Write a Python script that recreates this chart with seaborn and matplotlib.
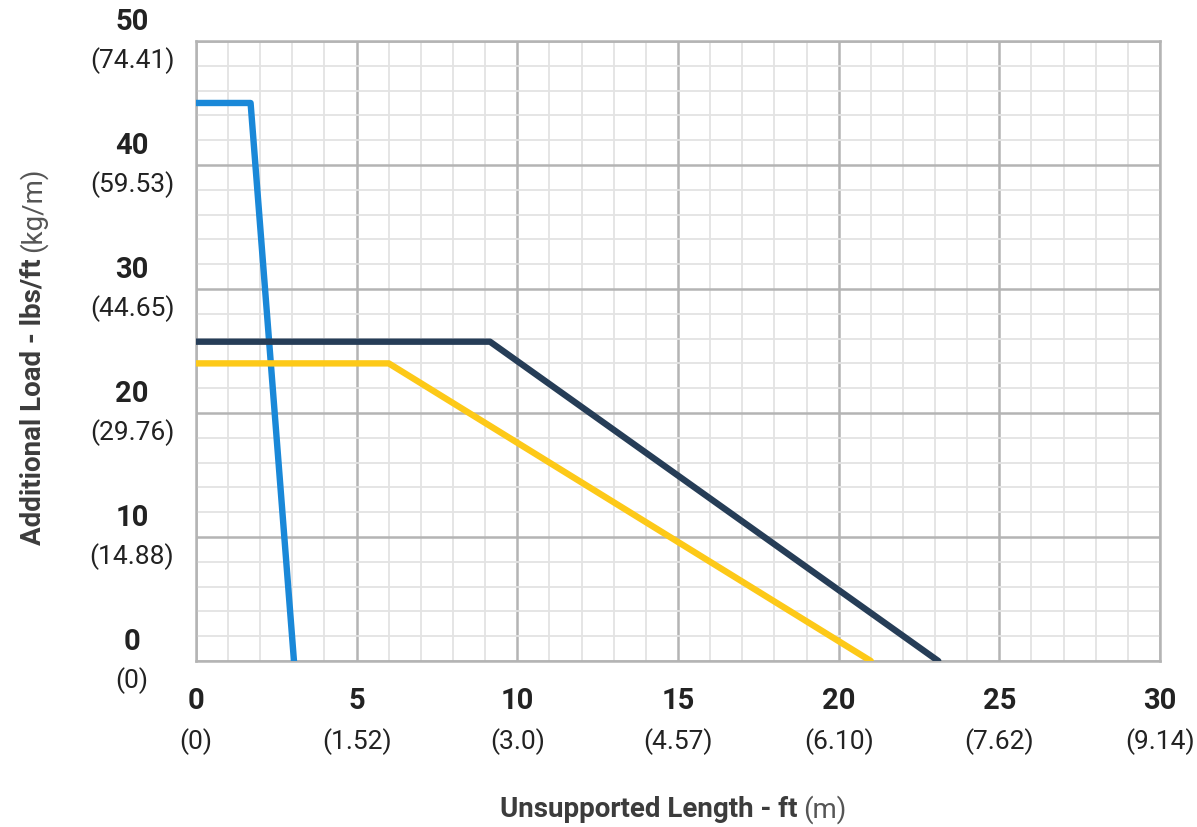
import matplotlib
matplotlib.use("Agg")
import matplotlib.pyplot as plt
import matplotlib.transforms as mtransforms
import pandas as pd
import seaborn as sns

# series (ft, lbs/ft)
series_names = ["A", "B", "C"]
a_x = [0, 1.7, 3.05]
a_y = [45, 45, 0]
b_x = [0, 9.15, 23.1]
b_y = [25.75, 25.75, 0]
c_x = [0, 6.0, 21.0]
c_y = [24.0, 24.0, 0]
colors = ["#1a88d8", "#263d57", "#fdc918"]

x_ticks = [0, 5, 10, 15, 20, 25, 30]
x_metric = ["(0)", "(1.52)", "(3.0)", "(4.57)", "(6.10)", "(7.62)", "(9.14)"]
y_ticks = [0, 10, 20, 30, 40, 50]
y_metric = ["(0)", "(14.88)", "(29.76)", "(44.65)", "(59.53)", "(74.41)"]

sns.set_style("white")
plt.rcParams["font.family"] = ["Roboto", "DejaVu Sans"]

rows = []
for name, xs, ys in zip(series_names, [a_x, b_x, c_x], [a_y, b_y, c_y]):
    for i, (x, y) in enumerate(zip(xs, ys)):
        rows.append({"series": name, "order": i, "ft": x, "load": y})
df = pd.DataFrame(rows)

fig = plt.figure(figsize=(11.97, 8.28), dpi=100)
ax = fig.add_axes([0.1637, 0.2005, 0.9691 - 0.1637, 0.9493 - 0.2005])

sns.lineplot(data=df, x="ft", y="load", hue="series", palette=colors,
             sort=False, estimator=None, linewidth=4.6, legend=False, ax=ax,
             zorder=3)

ax.set_xlim(0, 30)
ax.set_ylim(0, 50)
ax.set_xticks(x_ticks)
ax.set_yticks(y_ticks)
ax.set_xticks(range(0, 31), minor=True)
ax.set_yticks(range(0, 51, 2), minor=True)
ax.grid(which="minor", color="#e3e3e3", linewidth=1.3, zorder=0)
ax.grid(which="major", color="#b4b4b4", linewidth=1.8, zorder=1)
ax.set_axisbelow(True)
ax.tick_params(which="both", length=0, labelbottom=False, labelleft=False)
for s in ax.spines.values():
    s.set_color("#b4b4b4")
    s.set_linewidth(1.8)
ax.set_xlabel("")
ax.set_ylabel("")

dark = "#222222"
px = 72 / 100  # points per pixel at dpi 100
# y tick labels, two lines each
ytrans = mtransforms.blended_transform_factory(fig.transFigure, ax.transData)
for v, m in zip(y_ticks, y_metric):
    ax.annotate(str(v), (132 / 1197, v), xycoords=ytrans,
                xytext=(0, 20 * px), textcoords="offset points",
                ha="center", va="center", fontsize=21, fontweight="bold",
                color=dark)
    ax.annotate(m, (132 / 1197, v), xycoords=ytrans,
                xytext=(0, -19 * px), textcoords="offset points",
                ha="center", va="center", fontsize=19, fontweight="normal",
                color=dark)

# x tick labels, two lines each
xtrans = mtransforms.blended_transform_factory(ax.transData, fig.transFigure)
for v, m in zip(x_ticks, x_metric):
    ax.text(v, 1 - 701 / 828, str(v), transform=xtrans, ha="center", va="center",
            fontsize=21, fontweight="bold", color=dark)
    ax.text(v, 1 - 742 / 828, m, transform=xtrans, ha="center", va="center",
            fontsize=19, fontweight="normal", color=dark)

# axis titles: bold part + regular unit
label_col = "#3c3c3c"
xb = fig.text(500 / 1197, 1 - 810 / 828, "Unsupported Length - ft", ha="left",
              va="center", fontsize=20, fontweight="bold", color=label_col)
yb = fig.text(33 / 1197, 1 - 545 / 828, "Additional Load - lbs/ft", ha="center",
              va="bottom", rotation=90, fontsize=20, fontweight="bold",
              color=label_col)
fig.canvas.draw()
r = fig.canvas.get_renderer()
bx = xb.get_window_extent(r).transformed(fig.transFigure.inverted())
fig.text(bx.x1 + 6 / 1197, 1 - 810 / 828, "(m)", ha="left", va="center",
         fontsize=20, fontweight="normal", color="#555555")
by = yb.get_window_extent(r).transformed(fig.transFigure.inverted())
fig.text(33 / 1197, by.y1 + 6 / 828, "(kg/m)", ha="center", va="bottom",
         rotation=90, fontsize=20, fontweight="normal", color="#555555")

fig.savefig("out.png", dpi=100)
